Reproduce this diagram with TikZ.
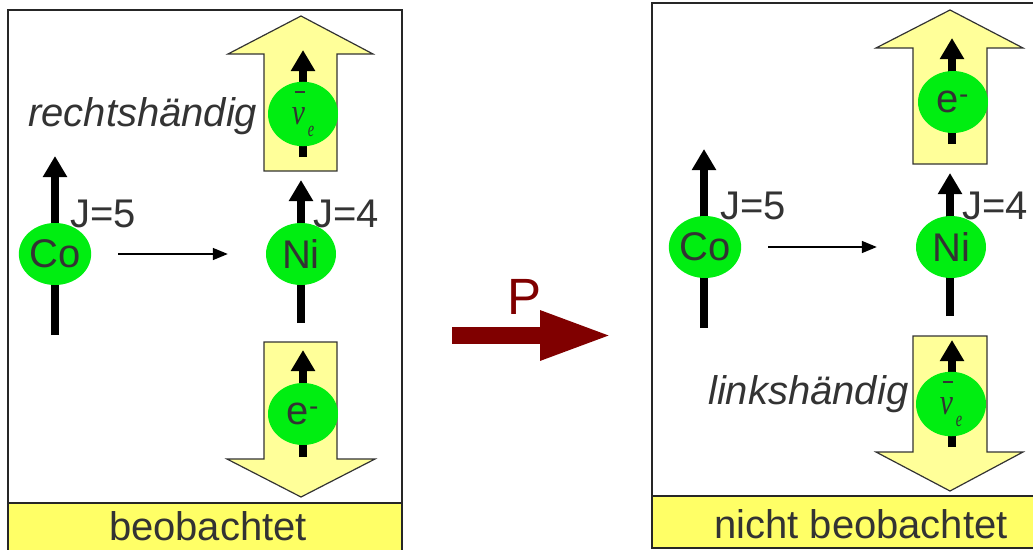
\documentclass[tikz,border=0pt]{standalone}
\usepackage{fontspec}
\usepackage{graphicx}
\setmainfont{Liberation Sans}
\newfontfamily\nufont{Liberation Serif}
\usetikzlibrary{shapes.geometric,arrows.meta}

\definecolor{ballgreen}{HTML}{00EE11}
\definecolor{paleyellow}{HTML}{FFFF99}
\definecolor{bandyellow}{HTML}{FFFF66}
\definecolor{txt}{HTML}{333333}
\definecolor{pcol}{HTML}{800000}

% anti-electron-neutrino symbol: narrow italic nu, raised bar, lowered e
\newcommand{\antinue}{{\nufont\itshape
  \makebox[0pt][l]{\hspace{3pt}\raisebox{32pt}{\rule{10pt}{1.4pt}}}%
  \scalebox{0.8}[1]{\fontsize{37}{40}\selectfont ν}%
  \hspace{3pt}%
  \raisebox{-12pt}{\scalebox{0.65}[1]{\fontsize{22}{24}\selectfont e}}}}

\begin{document}
\begin{tikzpicture}[x=1pt,y=-1pt,
  every node/.style={text=txt, font=\fontsize{40}{48}\selectfont},
  ball/.style={ellipse, fill=ballgreen, minimum width=70pt, minimum height=62pt, inner sep=0pt},
  spin/.style={line width=8pt, draw=black, -{Triangle[width=23pt,length=21pt]}},
  decay/.style={line width=1.5pt, draw=black, -{Triangle[width=12pt,length=15pt]}},
  bigarrow/.style={fill=paleyellow, draw=black!80, line width=1.2pt, line join=miter},
  panel/.style={draw=black!85, line width=2pt},
  band/.style={fill=bandyellow, draw=black!85, line width=2pt},
  label/.style={anchor=base west, inner sep=0pt},
]
\useasboundingbox (0,0) rectangle (1033,549);
\clip (0,0) rectangle (1033,549);

% ---------------- left panel: observed ----------------
\draw[panel] (8,10) rectangle (402,560);
\draw[band] (8,503) rectangle (402,560);
\node[anchor=base, inner sep=0pt] (obs) at (208,540) {beobachtet};

% outgoing particle directions
\draw[bigarrow] (264,171) -- (264,54) -- (228,54) -- (301,16) -- (373,54) -- (337,54) -- (337,171) -- cycle;
\draw[bigarrow] (264,342) -- (337,342) -- (337,459) -- (375,459) -- (301,497) -- (227,459) -- (264,459) -- cycle;

% spins
\coordinate (coLs) at (55,335);  \coordinate (coLt) at (55,156);
\coordinate (niLs) at (301,323); \coordinate (niLt) at (301,180);
\coordinate (nuLs) at (303,157); \coordinate (nuLt) at (303,50);
\coordinate (eLs)  at (303,457); \coordinate (eLt)  at (303,350);
\draw[spin] (coLs) -- (coLt);
\draw[spin] (niLs) -- (niLt);
\draw[spin] (nuLs) -- (nuLt);
\draw[spin] (eLs) -- (eLt);

% particles
\node[ball] (coL) at (55,254) {Co};
\node[ball] (niL) at (301,254) {Ni};
\node[ball] (nuL) at (303,114) {\antinue};
\node[ball] (eL)  at (303,414) {e\textsuperscript{-}};

\draw[decay, shorten <=27pt, shorten >=38pt] (coL.east) -- (niL.west);

\node[label] (jL5) at (70,227) {J=5};
\node[label] (jL4) at (313,227) {J=4};
\node[label, font=\fontsize{40}{48}\selectfont\itshape] (rh) at (28,126) {rechtshändig};

% ---------------- parity transformation ----------------
\coordinate (pa) at (452,335.5);
\coordinate (pb) at (613,335.5);
\draw[line width=17pt, draw=pcol, -{Triangle[width=45pt,length=73pt]}] (pa) -- (pb);
\node[anchor=base, inner sep=0pt, text=pcol, font=\fontsize{51}{60}\selectfont] (P) at (525,314) {P};

% ---------------- right panel: not observed ----------------
\draw[panel] (652,3) rectangle (1045,548);
\draw[band] (652,496) rectangle (1045,548);
\node[anchor=base, inner sep=0pt] (nobs) at (861,538) {nicht beobachtet};

\draw[bigarrow] (913,164) -- (913,48) -- (876,48) -- (950,10) -- (1023,48) -- (987,48) -- (987,164) -- cycle;
\draw[bigarrow] (913,336) -- (987,336) -- (987,452) -- (1023,452) -- (950,491) -- (876,452) -- (913,452) -- cycle;

\coordinate (coRs) at (704,328); \coordinate (coRt) at (704,149);
\coordinate (niRs) at (950,316); \coordinate (niRt) at (950,173);
\coordinate (eRs)  at (952,144); \coordinate (eRt)  at (952,38);
\coordinate (nuRs) at (952,447); \coordinate (nuRt) at (952,340);
\draw[spin] (coRs) -- (coRt);
\draw[spin] (niRs) -- (niRt);
\draw[spin] (eRs) -- (eRt);
\draw[spin] (nuRs) -- (nuRt);

\node[ball] (coR) at (705,247) {Co};
\node[ball] (niR) at (951,247) {Ni};
\node[ball] (eR)  at (953,102) {e\textsuperscript{-}};
\node[ball] (nuR) at (951,404) {\antinue};

\draw[decay, shorten <=27pt, shorten >=39pt] (coR.east) -- (niR.west);

\node[label] (jR5) at (720,219) {J=5};
\node[label] (jR4) at (962,219) {J=4};
\node[label, font=\fontsize{40}{48}\selectfont\itshape] (lh) at (708,404) {linkshändig};
\end{tikzpicture}
\end{document}
